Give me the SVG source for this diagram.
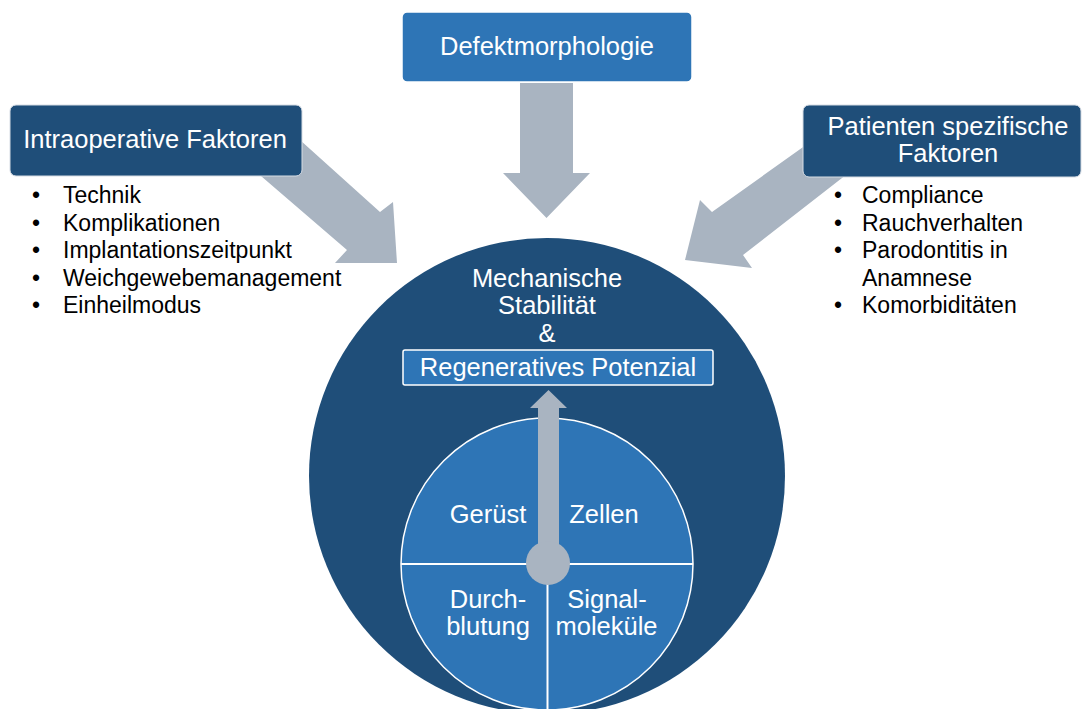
<svg xmlns="http://www.w3.org/2000/svg" width="1083" height="709" viewBox="0 0 1083 709">
<style>
.hdr{font-family:"Liberation Sans",Arial,sans-serif;font-size:25.5px;fill:#fff;text-anchor:middle}
.bul{font-family:"Liberation Sans",Arial,sans-serif;font-size:23px;fill:#000}
.dot{font-family:"Liberation Sans",Arial,sans-serif;font-size:23px;fill:#000;text-anchor:middle}
.arrow{fill:#A9B4C1}
.dark{fill:#1F4E79;stroke:#D6DCE4;stroke-width:1}
.mid{fill:#2E75B6;stroke:#FFFFFF;stroke-width:1.5}
</style>
<rect width="1083" height="709" fill="#fff"/>
<g id="connectors">
<polygon class="arrow" points="520,83 573,83 573,173 590,173 546.5,218 503,173 520,173"/>
<polygon class="arrow" points="280,122 380,212 393,202 397,263 335,263 347,250 240,158"/>
<polygon class="arrow" points="820,135 712,212 700,200 685,260 752,268 743,255 860,164"/>
</g>
<g id="node-defekt">
<rect class="mid" x="402" y="12" width="290" height="70" rx="5" stroke="#DDE3EA"/>
<text class="hdr" x="547" y="55">Defektmorphologie</text>
</g>
<g id="node-intraoperativ">
<rect class="dark" x="10" y="105" width="292" height="71" rx="6"/>
<text class="hdr" x="155" y="148">Intraoperative Faktoren</text>
<g>
<text class="dot" x="36" y="203">•</text><text class="bul" x="63" y="203">Technik</text>
<text class="dot" x="36" y="230.5">•</text><text class="bul" x="63" y="230.5">Komplikationen</text>
<text class="dot" x="36" y="258">•</text><text class="bul" x="63" y="258">Implantationszeitpunkt</text>
<text class="dot" x="36" y="285.5">•</text><text class="bul" x="63" y="285.5">Weichgewebemanagement</text>
<text class="dot" x="36" y="313">•</text><text class="bul" x="63" y="313">Einheilmodus</text>
</g>
</g>
<g id="node-patient">
<rect class="dark" x="803" y="105" width="278" height="72" rx="6"/>
<text class="hdr" x="948" y="135">Patienten spezifische</text>
<text class="hdr" x="948" y="162">Faktoren</text>
<g>
<text class="dot" x="838" y="203">•</text><text class="bul" x="862" y="203">Compliance</text>
<text class="dot" x="838" y="230.5">•</text><text class="bul" x="862" y="230.5">Rauchverhalten</text>
<text class="dot" x="838" y="258">•</text><text class="bul" x="862" y="258">Parodontitis in</text>
<text class="bul" x="862" y="285.5">Anamnese</text>
<text class="dot" x="838" y="313">•</text><text class="bul" x="862" y="313">Komorbiditäten</text>
</g>
</g>
<g id="node-center">
<circle cx="547" cy="476" r="238" fill="#1F4E79"/>
<text class="hdr" x="547" y="287">Mechanische</text>
<text class="hdr" x="547" y="314">Stabilität</text>
<text class="hdr" x="547" y="342">&amp;</text>
</g>
<g id="node-regenerativ">
<rect class="mid" x="403" y="350" width="310" height="35" rx="2"/>
<text class="hdr" x="558" y="376">Regeneratives Potenzial</text>
</g>
<g id="node-quadrants">
<circle class="mid" cx="547" cy="564" r="146" stroke-width="2"/>
<line x1="401" y1="564" x2="693" y2="564" stroke="#fff" stroke-width="2"/>
<line x1="547.5" y1="564" x2="547.5" y2="710" stroke="#fff" stroke-width="2"/>
<text class="hdr" x="488" y="523">Gerüst</text>
<text class="hdr" x="604" y="523">Zellen</text>
<text class="hdr" x="488" y="608">Durch-</text>
<text class="hdr" x="488" y="635">blutung</text>
<text class="hdr" x="607" y="608">Signal-</text>
<text class="hdr" x="606.5" y="635">moleküle</text>
</g>
<g id="connector-up">
<polygon class="arrow" points="538,563 538,408 530,408 548.5,390 567,408 559,408 559,563"/>
<circle class="arrow" cx="548" cy="563" r="22"/>
</g>
</svg>
